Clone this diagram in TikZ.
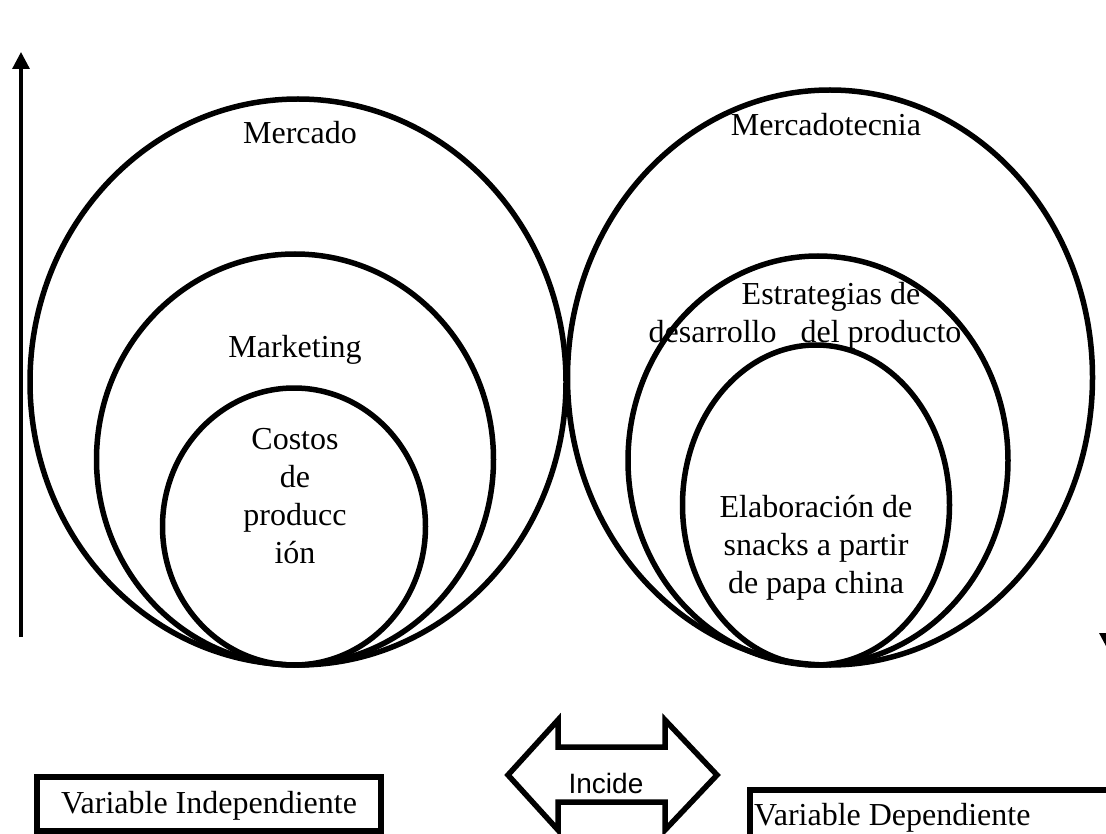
\documentclass[tikz,border=0pt]{standalone}
\usepackage{fontspec}
\setmainfont{Liberation Serif}
\newfontfamily\labelsans{Liberation Sans}
\usetikzlibrary{shapes.geometric,arrows.meta}
\tikzset{
  oval/.style={ellipse, draw, line width=5.5pt, inner sep=0pt},
  word/.style={font=\fontsize{32}{38}\selectfont, inner sep=0pt, align=center},
  frame/.style={draw, line width=5.5pt},
  axis/.style={line width=3.2pt, -{Triangle[length=17pt,width=17pt]}}
}
\begin{document}
\begin{tikzpicture}[x=1pt,y=-1pt]
\useasboundingbox (0,0) rectangle (1106,834);

% left family of nested ellipses
\node[oval, minimum width=536pt, minimum height=566pt] (mercado) at (298,382) {};
\node[oval, minimum width=397pt, minimum height=411pt] (marketing) at (295,459.5) {};
\node[oval, minimum width=263pt, minimum height=277pt] (costos) at (294,526.5) {};

% right family of nested ellipses
\node[oval, minimum width=525pt, minimum height=575pt] (mercadotecnia) at (830,377.5) {};
\node[oval, minimum width=380pt, minimum height=409pt] (estrategias) at (818,460.5) {};
\node[oval, minimum width=267pt, minimum height=320pt] (elaboracion) at (816,505) {};

% labels inside the ellipses
\node[word] (tMercado) at (300,133) {Mercado};
\node[word] (tMarketing) at (295,350) {Marketing};
\node[word] (tCostos) at (295,496) {Costos\\de\\producc\\ión};
\node[word] (tMercadotecnia) at (826,125) {Mercadotecnia};
\node[word] (tEstr1) at (831,297) {Estrategias de};
\node[word] (tEstr2) at (805,335) {desarrollo\ \ \ del producto};
\node[word] (tElab) at (816,548) {Elaboración de\\snacks a partir\\de papa china};

% vertical axes
\coordinate (axL0) at (21,637);
\coordinate (axL1) at (21,52);
\draw[axis] (axL0) -- (axL1);
\coordinate (axR0) at (1108,60);
\coordinate (axR1) at (1108,650);
\draw[axis] (axR0) -- (axR1);

% double-headed arrow between the variables
\draw[line width=5.5pt, line join=miter]
  (508,775) -- (558,720) -- (558,747) -- (665,747) -- (665,720) -- (717,775)
  -- (665,830) -- (665,802) -- (558,802) -- (558,830) -- cycle;
\node[font=\labelsans\fontsize{28}{32}\selectfont, inner sep=0pt] (incide) at (606,783) {Incide};

% variable boxes
\node[frame, minimum width=344pt, minimum height=54pt, inner sep=0pt] (indep) at (209,804) {};
\node[word] (tIndep) at (209,806) {Variable Independiente};
\draw[frame] (1130,790) -- (750,790) -- (750,850);
\node[word, anchor=west] (tDep) at (754,818) {Variable Dependiente};
\end{tikzpicture}
\end{document}
